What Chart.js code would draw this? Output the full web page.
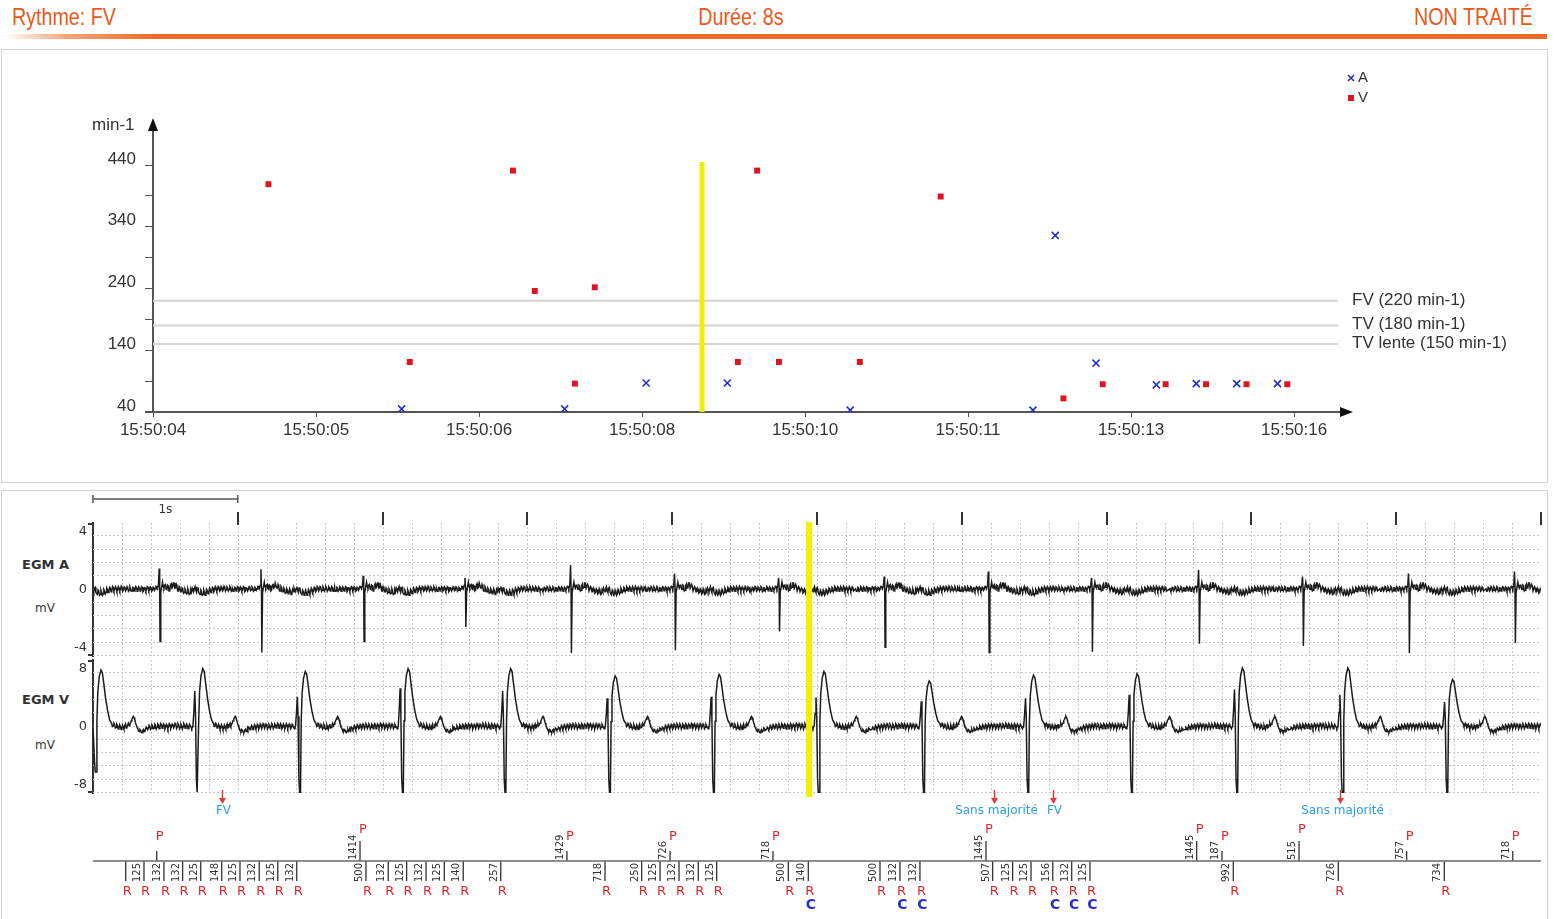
<!DOCTYPE html>
<html lang="fr"><head><meta charset="utf-8"><title>EGM FV</title>
<script src="https://cdn.jsdelivr.net/npm/chart.js@4.4.1/dist/chart.umd.min.js"></script>
<style>
html,body{margin:0;padding:0;background:#fff;}
body{width:1555px;height:919px;position:relative;overflow:hidden;}
.hdr{position:absolute;top:4px;line-height:26px;font-family:"Liberation Sans Narrow","Arial Narrow","Liberation Sans",sans-serif;font-size:24px;color:#e85a1c;white-space:nowrap;}
.bar{position:absolute;left:5px;top:34px;width:1542px;height:5px;background:linear-gradient(to right,rgba(238,106,37,0) 0px,rgba(238,106,37,0.6) 60px,#ee6a25 150px);}
.box{position:absolute;border:1px solid #d4d4d4;box-sizing:border-box;}
.lbl{position:absolute;font-family:"DejaVu Sans",sans-serif;color:#333;white-space:nowrap;line-height:16px;}
canvas{position:absolute;left:0;top:0;}
</style></head><body>
<div class="hdr" style="left:12px;transform:scaleX(0.82);transform-origin:left center">Rythme: FV</div>
<div class="hdr" style="left:741px;transform:translateX(-50%) scaleX(0.82);transform-origin:center center">Durée: 8s</div>
<div class="hdr" style="right:22px;transform:scaleX(0.82);transform-origin:right center">NON TRAITÉ</div>
<div class="bar"></div>
<div class="box" style="left:1px;top:49px;width:1547px;height:434px"></div>
<div class="box" style="left:1px;top:490px;width:1547px;height:432px"></div>
<div class="lbl" style="left:22px;top:557px;font-weight:bold;font-size:13px">EGM A</div>
<div class="lbl" style="left:35px;top:600px;font-size:12px">mV</div>
<div class="lbl" style="left:22px;top:692px;font-weight:bold;font-size:13px">EGM V</div>
<div class="lbl" style="left:35px;top:737px;font-size:12px">mV</div>
<canvas id="cTop" width="1555" height="919"></canvas>
<canvas id="cA" width="1555" height="919"></canvas>
<canvas id="cV" width="1555" height="919"></canvas>
<canvas id="cM" width="1555" height="919"></canvas>
<script>
// ================= DATA =================
// Top: rate trend (x = tick index, labels are clock times)
const TIME_LABELS = ['15:50:04','15:50:05','15:50:06','15:50:08','15:50:10','15:50:11','15:50:13','15:50:16'];
const Y_TICKS = [40,90,140,190,240,290,340,390,440];
const Y_LABELED = [40,140,240,340,440];
const A_RATE_X = [1.525, 2.525, 3.025, 3.523, 4.277, 5.398, 5.535, 5.785, 6.155, 6.400, 6.648, 6.898];
const A_RATE_Y = [45, 45, 87, 87, 43, 43, 326, 119, 84, 86, 86, 86];
const V_RATE_X = [0.708, 1.575, 2.208, 2.342, 2.588, 2.710, 3.588, 3.706, 3.840, 4.336, 4.832, 5.585, 5.826, 6.212, 6.460, 6.708, 6.958];
const V_RATE_Y = [409, 121, 431, 236, 86, 242, 121, 431, 121, 121, 389, 62, 85, 85, 85, 85, 85];
const REF_VALUES = [220, 180, 150];
const REF_LABELS = ['FV (220 min-1)', 'TV (180 min-1)', 'TV lente (150 min-1)'];
const YELLOW_TOP_X = 3.368;

// EGM A: atrial spike times (s), up / down deflections (mV)
const A_TIMES = [0.460, 1.163, 1.869, 2.572, 3.301, 4.019, 4.738, 5.467, 6.186, 6.899, 7.638, 8.356, 9.088, 9.820];
const A_UP    = [1.45, 1.40, 0.95, 0.80, 1.70, 1.10, 0.80, 0.90, 1.25, 0.80, 1.35, 0.90, 1.10, 1.25];
const A_DOWN  = [-3.6, -4.35, -3.6, -2.6, -4.4, -4.2, -2.9, -4.0, -4.35, -4.3, -3.75, -3.9, -4.4, -3.7];
const A_LEAD  = -0.25;   // previous beat, only its tail is visible
// baseline read every 10 ms around an atrial spike, plus the value 5 ms later
const A_NOISE_PRE  = [0.05,-0.1,0.12,-0.02,0.15,-0.05,0.1,0.0,0.15,-0.08,0.1,0.02,0.15,-0.02,0.12,-0.06,0.1,0.05,0.2];
const A_MID_PRE    = [-0.12,0.15,-0.1,0.2,-0.12,0.18,-0.1,0.2,-0.15,0.12,-0.1,0.2,-0.08,0.18,-0.12,0.15,-0.05,0.22,0.05];
const A_NOISE_POST = [0.5,0.1,0.35,0.0,0.25,-0.05,0.4,0.15,0.45,0.1,0.2,-0.1,0.1,-0.15,0.0,-0.2,-0.05,-0.25,-0.1,-0.3,-0.15,-0.05,0.05,-0.05,0.1,-0.2,-0.35,-0.15,-0.35,-0.2,-0.3,-0.1,-0.2,0.0,-0.1,0.1,-0.05,0.12,0.0,0.12,-0.05,0.1,0.0,0.12,-0.02,0.1,0.0,0.1,-0.05,0.1];
const A_MID_POST   = [0.2,0.3,0.05,0.3,-0.1,0.3,0.1,0.45,0.1,0.35,-0.1,0.2,-0.15,0.1,-0.25,0.05,-0.3,0.05,-0.35,0.0,0.1,-0.15,0.2,-0.2,0.15,-0.3,-0.05,-0.4,-0.05,-0.4,0.0,-0.3,0.1,-0.2,0.15,-0.15,0.2,-0.1,0.2,-0.12,0.2,-0.1,0.22,-0.12,0.18,-0.1,0.2,-0.12,0.18,-0.1];

// EGM V: ventricular complex times (s), pre-spike, negative spike and post peak (mV)
const V_TIMES = [0.019, 0.722, 1.430, 2.140, 2.848, 3.570, 4.288, 5.012, 5.739, 6.459, 7.175, 7.902, 8.630, 9.353];
const V_PRE   = [0.0, 4.9, 4.1, 5.3, 4.9, 3.9, 4.1, 4.0, 3.5, 3.9, 4.4, 5.1, 4.4, 3.4];
const V_NEG   = [-6.3, -9.1, -9.1, -9.1, -9.1, -9.1, -9.1, -9.1, -9.1, -9.1, -9.1, -9.1, -9.1, -9.1];
const V_POST  = [7.8, 8.0, 7.6, 8.0, 8.0, 7.0, 7.2, 7.6, 6.3, 7.1, 7.3, 8.1, 8.1, 6.5];
const V_TAIL  = 10.07;   // next complex, just outside the strip
const V_NOISE_PRE  = [-0.4,-0.2,-0.3,0.0,-0.25,0.1,-0.2,0.15,-0.1,0.2,-0.05,0.25,0.0,0.2,-0.1,0.15,0.0,0.25,-0.05,0.2,0.05,0.3,0.0,0.2,-0.1,0.15,-0.05,0.2,0.0,0.15,-0.1,0.1,-0.3];
const V_MID_PRE    = [-0.1,-0.45,0.15,-0.4,0.25,-0.3,0.3,-0.35,0.35,-0.3,0.4,-0.25,0.35,-0.35,0.3,-0.3,0.4,-0.3,0.35,-0.2,0.45,-0.25,0.4,-0.3,0.35,-0.35,0.4,-0.25,0.35,-0.3,0.3,-0.1,-0.05];
const V_NOISE_POST = [0.4,0.1,0.3,-0.1,0.1,-0.2,0.0,-0.3,-0.1,0.1,-0.2,0.2,0.1,0.5,1.0,1.4,0.9,0.2,-0.3,-0.7,-0.5,-0.85,-0.4,-0.6,-0.3];
const V_MID_POST   = [0.0,0.45,-0.2,0.3,-0.35,0.25,-0.4,0.2,-0.4,0.35,-0.15,0.45,0.3,0.8,1.25,1.2,0.5,-0.1,-0.6,-0.4,-0.8,-0.55,-0.7,-0.2,-0.5];
// complex shape: time offset (s), component (p = pre, n = neg, q = post) and share of it
const V_CPX_T    = [-0.032,-0.025,-0.019,-0.014,-0.008,-0.003,0.003,0.008,0.014,0.024,0.036,0.046,0.056,0.068,0.082,0.096];
const V_CPX_KIND = ['p','p','p','p','n','n','n','q','q','q','q','q','q','q','q','q'];
const V_CPX_W    = [0.0,0.45,1.0,0.35,0.8,1.0,1.0,0.1,0.6,0.88,1.0,0.95,0.75,0.5,0.28,0.12];
const YELLOW_EGM_T = 4.945;

// Marker channel
const P_TIMES  = [0.440, 1.844, 3.273, 3.985, 4.696, 6.167, 7.622, 7.797, 8.329, 9.072, 9.805];
const P_LABELS = ['', '1414', '1429', '726', '718', '1445', '1445', '187', '515', '757', '718'];
const P_TALL   = [0, 1, 0, 0, 0, 1, 1, 0, 1, 0, 0];
const R_TIMES  = [0.226, 0.352, 0.490, 0.619, 0.744, 0.889, 1.015, 1.148, 1.276, 1.407,
                  1.885, 2.039, 2.166, 2.300, 2.426, 2.557, 2.816,
                  3.536, 3.789, 3.916, 4.047, 4.180, 4.307,
                  4.802, 4.940, 5.435, 5.573, 5.711,
                  6.213, 6.351, 6.478, 6.628, 6.759, 6.885,
                  7.875, 8.600, 9.332];
const R_LABELS = ['', '125', '132', '132', '125', '148', '125', '132', '125', '132',
                  '500', '132', '125', '132', '125', '140', '257',
                  '718', '250', '125', '132', '132', '125',
                  '500', '140', '500', '132', '132',
                  '507', '125', '125', '156', '132', '125',
                  '992', '726', '734'];
const R_C      = [0,0,0,0,0,0,0,0,0,0, 0,0,0,0,0,0,0, 0,0,0,0,0,0, 0,1,0,1,1, 0,0,0,1,1,1, 0,0,0];
const ANN_TIMES = [0.891, 6.222, 6.633, 8.612];
const ANN_TEXT  = ['FV', 'Sans majorité', 'FV', 'Sans majorité'];

// ================= BUILD TRACES =================
function pushNoise(seg, start, vals, mids) {
  vals.forEach((v, k) => { seg.push([start + k * 0.01, v]); seg.push([start + k * 0.01 + 0.005, mids[k]]); });
}
function buildA() {
  const beats = [{t: A_LEAD, up: 0, dn: 0}].concat(A_TIMES.map((t, i) => ({t, up: A_UP[i], dn: A_DOWN[i]})));
  const out = [];
  beats.forEach((b, i) => {
    const nextStart = beats[i + 1] ? beats[i + 1].t - 0.20 : Infinity;
    const seg = [];
    pushNoise(seg, b.t - 0.20, A_NOISE_PRE, A_MID_PRE);
    seg.push([b.t - 0.008, 0.3], [b.t - 0.003, b.up], [b.t + 0.0005, 0.1], [b.t + 0.003, b.dn], [b.t + 0.008, -0.2]);
    pushNoise(seg, b.t + 0.02, A_NOISE_POST, A_MID_POST);
    seg.forEach(([x, y]) => { if (x >= 0 && x <= 10 && x < nextStart) out.push({x, y}); });
  });
  return out;
}
function buildV() {
  const beats = V_TIMES.map((t, i) => ({t, p: V_PRE[i], n: V_NEG[i], q: V_POST[i]})).concat([{t: V_TAIL, p: 0, n: 0, q: 0}]);
  const out = [];
  beats.forEach((b, i) => {
    const nextStart = beats[i + 1] ? beats[i + 1].t - 0.36 : Infinity;
    const seg = [];
    pushNoise(seg, b.t - 0.36, V_NOISE_PRE, V_MID_PRE);
    V_CPX_T.forEach((dt, k) => seg.push([b.t + dt, b[V_CPX_KIND[k]] * V_CPX_W[k]]));
    pushNoise(seg, b.t + 0.11, V_NOISE_POST, V_MID_POST);
    seg.forEach(([x, y]) => { if (x >= 0 && x <= 10 && x < nextStart) out.push({x, y}); });
  });
  return out;
}

// ================= CHARTS =================
Chart.defaults.font.family = '"Liberation Sans", Arial, sans-serif';
Chart.defaults.color = '#333';
const base = {animation: false, responsive: false, events: [],
  plugins: {legend: {display: false}, tooltip: {enabled: false}}};

const topDecor = {
  id: 'topDecor',
  afterDraw(chart) {
    const {ctx, chartArea: ca, scales: {x, y}} = chart;
    const y0 = y.getPixelForValue(40);
    ctx.save();
    ctx.fillStyle = '#111';
    ctx.beginPath(); ctx.moveTo(ca.left, 118); ctx.lineTo(ca.left - 5, 131); ctx.lineTo(ca.left + 5, 131); ctx.closePath(); ctx.fill();
    ctx.beginPath(); ctx.moveTo(ca.right + 10, y0); ctx.lineTo(ca.right - 3, y0 - 5); ctx.lineTo(ca.right - 3, y0 + 5); ctx.closePath(); ctx.fill();
    ctx.strokeStyle = '#555'; ctx.lineWidth = 2;
    ctx.beginPath(); ctx.moveTo(ca.left - 8, y0); ctx.lineTo(ca.left, y0); ctx.stroke();
    ctx.font = '17px "Liberation Sans", Arial, sans-serif'; ctx.fillStyle = '#333';
    ctx.textBaseline = 'middle'; ctx.textAlign = 'left';
    ctx.fillText('min-1', 92, 125);
    REF_VALUES.forEach((v, i) => ctx.fillText(REF_LABELS[i], ca.right + 9, y.getPixelForValue(v) - 1));
    // legend
    ctx.strokeStyle = '#2030c8'; ctx.lineWidth = 1.6;
    ctx.beginPath(); ctx.moveTo(1348, 75); ctx.lineTo(1354, 81); ctx.moveTo(1354, 75); ctx.lineTo(1348, 81); ctx.stroke();
    ctx.fillStyle = '#e0141e'; ctx.fillRect(1348, 95, 6, 6);
    ctx.fillStyle = '#333'; ctx.font = '15px "Liberation Sans", Arial, sans-serif';
    ctx.fillText('A', 1358, 78); ctx.fillText('V', 1358, 98);
    ctx.restore();
  }
};

new Chart(document.getElementById('cTop'), {
  type: 'scatter',
  data: {datasets: [
    {data: [{x: YELLOW_TOP_X, y: 40}, {x: YELLOW_TOP_X, y: 445}], showLine: true, borderColor: '#f3ef00', borderWidth: 5, pointRadius: 0, order: 1},
    ...REF_VALUES.map(v => ({data: [{x: 0, y: v}, {x: 7.27, y: v}], showLine: true, borderColor: '#d4d4d4', borderWidth: 2, pointRadius: 0, order: 2})),
    {data: A_RATE_X.map((x, i) => ({x, y: A_RATE_Y[i]})), pointStyle: 'crossRot', pointRadius: 5, borderColor: '#2030c8', backgroundColor: '#2030c8', borderWidth: 1.6, order: 0},
    {data: V_RATE_X.map((x, i) => ({x, y: V_RATE_Y[i]})), pointStyle: 'rect', pointRadius: 4.2, borderColor: '#e0141e', backgroundColor: '#e0141e', borderWidth: 0, order: 0}
  ]},
  options: {...base,
    layout: {padding: {left: 0, right: 212, top: 128, bottom: 0}},
    scales: {
      x: {type: 'linear', min: 0, max: 7.3,
        afterBuildTicks: s => { s.ticks = TIME_LABELS.map((_, i) => ({value: i})); },
        afterFit: s => { s.height = 919 - 412; },
        ticks: {callback: v => TIME_LABELS[v] ?? '', font: {size: 17}, color: '#333', padding: 3, maxRotation: 0, autoSkip: false},
        grid: {drawOnChartArea: false, drawTicks: true, tickLength: 5, color: '#555'},
        border: {display: true, color: '#555', width: 2}},
      y: {type: 'linear', min: 40, max: 500,
        afterBuildTicks: s => { s.ticks = Y_TICKS.map(v => ({value: v})); },
        afterFit: s => { s.width = 153; },
        ticks: {callback: v => Y_LABELED.includes(v) ? String(v) : '', font: {size: 17}, color: '#333', padding: 9, labelOffset: -6},
        grid: {drawOnChartArea: false, drawTicks: true, tickLength: 8, color: '#555'},
        border: {display: true, color: '#555', width: 2}}
    }
  },
  plugins: [topDecor]
});

function egmGrid(rows, extra) {
  return {
    id: 'egmGrid',
    beforeDatasetsDraw(chart) {
      const {ctx, chartArea: ca, scales: {x}} = chart;
      ctx.save(); ctx.strokeStyle = '#c8c8c8'; ctx.lineWidth = 1; ctx.setLineDash([2, 2]);
      for (let k = 1; k < 50; k++) {
        const px = Math.round(x.getPixelForValue(k * 0.2)) + 0.5;
        ctx.beginPath(); ctx.moveTo(px, ca.top); ctx.lineTo(px, ca.bottom); ctx.stroke();
      }
      for (let k = 1; k <= rows; k++) {
        const py = Math.round(ca.top + (ca.bottom - ca.top) * k / rows) - 0.5;
        ctx.beginPath(); ctx.moveTo(ca.left, py); ctx.lineTo(ca.right, py); ctx.stroke();
      }
      ctx.restore();
    },
    afterDraw(chart) {
      const {ctx, chartArea: ca, scales: {x}} = chart;
      ctx.save(); ctx.strokeStyle = '#333'; ctx.lineWidth = 2;
      ctx.beginPath();
      ctx.moveTo(ca.left - 5, ca.top + 1); ctx.lineTo(ca.left, ca.top + 1);
      ctx.moveTo(ca.left - 5, ca.bottom - 1); ctx.lineTo(ca.left, ca.bottom - 1);
      ctx.stroke();
      if (extra) {
        ctx.lineWidth = 2; ctx.strokeStyle = '#333';
        for (let s = 1; s <= 10; s++) {
          const px = Math.round(x.getPixelForValue(s));
          ctx.beginPath(); ctx.moveTo(px, 512); ctx.lineTo(px, 525); ctx.stroke();
        }
        const a = x.getPixelForValue(0), b = x.getPixelForValue(1);
        ctx.strokeStyle = '#555'; ctx.lineWidth = 1.5;
        ctx.beginPath(); ctx.moveTo(a, 499); ctx.lineTo(b, 499);
        ctx.moveTo(a, 495); ctx.lineTo(a, 503); ctx.moveTo(b, 495); ctx.lineTo(b, 503); ctx.stroke();
        ctx.fillStyle = '#333'; ctx.font = '12px "DejaVu Sans", sans-serif'; ctx.textAlign = 'center'; ctx.textBaseline = 'middle';
        ctx.fillText('1s', (a + b) / 2, 510);
      }
      ctx.restore();
    }
  };
}

function egmScales(min, max, labels, top, bottom) {
  return {
    layout: {padding: {left: 0, right: 14, top: top, bottom: 919 - bottom}},
    scales: {
      x: {type: 'linear', min: 0, max: 10, display: false},
      y: {type: 'linear', min: min, max: max,
        afterBuildTicks: s => { s.ticks = labels.map(v => ({value: v})); },
        afterFit: s => { s.width = 93; },
        ticks: {font: {size: 13, family: '"DejaVu Sans", sans-serif'}, color: '#333', padding: 6},
        grid: {drawOnChartArea: false, drawTicks: false},
        border: {display: true, color: '#333', width: 2}}
    }
  };
}

new Chart(document.getElementById('cA'), {
  type: 'scatter',
  data: {datasets: [
    {data: buildA(), showLine: true, borderColor: '#1c1c1c', borderWidth: 1.5, pointRadius: 0, tension: 0}
  ]},
  options: {...base, ...egmScales(-4.6, 4.6, [-4, 0, 4], 523, 656)},
  plugins: [egmGrid(10, true)]
});

new Chart(document.getElementById('cV'), {
  type: 'scatter',
  data: {datasets: [
    {data: [{x: YELLOW_EGM_T, y: 28.3}, {x: YELLOW_EGM_T, y: -9.75}], showLine: true, borderColor: '#f3ef00', borderWidth: 6, pointRadius: 0, clip: false, order: 0},
    {data: buildV(), showLine: true, borderColor: '#1c1c1c', borderWidth: 1.5, pointRadius: 0, tension: 0, order: 1}
  ]},
  options: {...base, ...egmScales(-9.2, 9.2, [-8, 0, 8], 660, 793)},
  plugins: [egmGrid(10, false)]
});

// marker channel
const pStems = [], rStems = [];
P_TIMES.forEach((t, i) => pStems.push({x: t, y: 0}, {x: t, y: P_TALL[i] ? 20 : 10}, {x: t, y: null}));
R_TIMES.forEach(t => rStems.push({x: t, y: 0}, {x: t, y: -20}, {x: t, y: null}));

const markerText = {
  id: 'markerText',
  afterDraw(chart) {
    const {ctx, scales: {x, y}} = chart;
    const y0 = y.getPixelForValue(0);
    ctx.save();
    ctx.fillStyle = '#333'; ctx.font = '10px "DejaVu Sans", sans-serif';
    P_TIMES.forEach((t, i) => {
      if (!P_LABELS[i]) return;
      const px = x.getPixelForValue(t);
      ctx.save(); ctx.translate(px - 1.5, y0 - 1); ctx.rotate(-Math.PI / 2);
      ctx.textAlign = 'left'; ctx.textBaseline = 'bottom'; ctx.fillText(P_LABELS[i], 0, 0); ctx.restore();
    });
    R_TIMES.forEach((t, i) => {
      if (!R_LABELS[i]) return;
      const px = x.getPixelForValue(t);
      ctx.save(); ctx.translate(px - 1.5, y0 + 2); ctx.rotate(-Math.PI / 2);
      ctx.textAlign = 'right'; ctx.textBaseline = 'bottom'; ctx.fillText(R_LABELS[i], 0, 0); ctx.restore();
    });
    ctx.textAlign = 'center'; ctx.textBaseline = 'middle';
    ctx.font = '13px "DejaVu Sans", sans-serif'; ctx.fillStyle = '#e3262d';
    P_TIMES.forEach((t, i) => ctx.fillText('P', x.getPixelForValue(t) + 3, y.getPixelForValue(P_TALL[i] ? 31 : 24)));
    R_TIMES.forEach(t => ctx.fillText('R', x.getPixelForValue(t) + 1.5, y.getPixelForValue(-31)));
    ctx.font = 'bold 14px "DejaVu Sans", sans-serif'; ctx.fillStyle = '#2d2dc8';
    R_TIMES.forEach((t, i) => { if (R_C[i]) ctx.fillText('C', x.getPixelForValue(t) + 2.5, y.getPixelForValue(-44)); });
    ANN_TIMES.forEach((t, i) => {
      const px = Math.round(x.getPixelForValue(t)) + 0.5;
      ctx.strokeStyle = '#e23a3a'; ctx.fillStyle = '#e23a3a'; ctx.lineWidth = 1.5;
      ctx.beginPath(); ctx.moveTo(px, 790); ctx.lineTo(px, 800); ctx.stroke();
      ctx.beginPath(); ctx.moveTo(px - 3.5, 798); ctx.lineTo(px + 3.5, 798); ctx.lineTo(px, 804); ctx.closePath(); ctx.fill();
      ctx.fillStyle = '#2a9fe0'; ctx.font = '12px "DejaVu Sans", sans-serif';
      ctx.fillText(ANN_TEXT[i], px + (ANN_TEXT[i].length > 2 ? 2 : 1), 811);
    });
    ctx.restore();
  }
};

new Chart(document.getElementById('cM'), {
  type: 'scatter',
  data: {datasets: [
    {data: [{x: 0, y: 0}, {x: 10, y: 0}], showLine: true, borderColor: '#6a6a6a', borderWidth: 1.5, pointRadius: 0},
    {data: pStems, showLine: true, spanGaps: false, borderColor: '#333', borderWidth: 1.3, pointRadius: 0},
    {data: rStems, showLine: true, spanGaps: false, borderColor: '#333', borderWidth: 1.3, pointRadius: 0}
  ]},
  options: {...base,
    layout: {padding: {left: 93, right: 14, top: 803, bottom: 0}},
    scales: {
      x: {type: 'linear', min: 0, max: 10, display: false},
      y: {type: 'linear', min: -58, max: 58, display: false}
    }
  },
  plugins: [markerText]
});
</script>
</body></html>
